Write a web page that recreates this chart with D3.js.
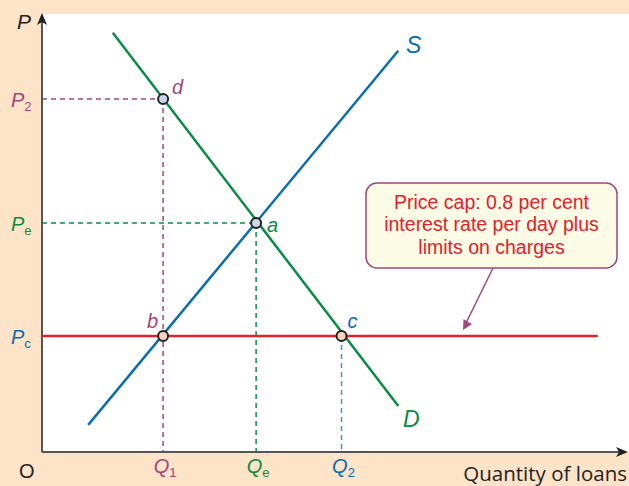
<!DOCTYPE html>
<html><head><meta charset="utf-8">
<script src="https://cdn.jsdelivr.net/npm/d3@7"></script>
<style>body{margin:0;background:#fde3c8;} svg{display:block;font-family:"Liberation Sans",Arial,sans-serif;}</style>
</head><body>
<svg id="c" width="629" height="486"></svg>
<script>
// Data (quantity and price in arbitrary units 0-100)
const supplyLine = [{q: 7.9, p: 6.2}, {q: 60.9, p: 91.6}];
const demandLine = [{q: 12.1, p: 95.7}, {q: 60.9, p: 10.5}];
const capLine = [{q: 0, p: 26.5}, {q: 95.0, p: 26.5}];
const keyQ = {Q1: 20.7, Qe: 36.6, Q2: 51.2};
const keyP = {P2: 80.6, Pe: 52.3, Pc: 26.5};
const pointNames = ["d", "a", "b", "c"];
const pointQ = [20.7, 36.6, 20.7, 51.2];
const pointP = [80.6, 52.3, 26.5, 26.5];
const capText = ["Price cap: 0.8 per cent", "interest rate per day plus", "limits on charges"];

const green = "#0a8c45", blue = "#0a6db2", red = "#e3202c", purple = "#a2457c", axisCol = "#555";
const svg = d3.select("#c");
const x = d3.scaleLinear().domain([0, 100]).range([42, 627]);
const y = d3.scaleLinear().domain([0, 100]).range([452, 14]);

// white plot background
svg.append("rect").attr("x", x(0)).attr("y", y(100)).attr("width", 629 - x(0)).attr("height", y(0) - y(100)).attr("fill", "#fff");

const line = d3.line().x(d => x(d.q)).y(d => y(d.p));

// dashed guides
function dash(x1, y1, x2, y2, col) {
  svg.append("line").attr("x1", x1).attr("y1", y1).attr("x2", x2).attr("y2", y2)
    .attr("stroke", col).attr("stroke-width", 1.5).attr("stroke-dasharray", "5,4");
}
dash(x(0), y(keyP.P2), x(keyQ.Q1), y(keyP.P2), purple);
dash(x(keyQ.Q1), y(keyP.P2), x(keyQ.Q1), y(0), purple);
dash(x(0), y(keyP.Pe), x(keyQ.Qe), y(keyP.Pe), green);
dash(x(keyQ.Qe), y(keyP.Pe), x(keyQ.Qe), y(0), green);
dash(x(keyQ.Q2), y(keyP.Pc), x(keyQ.Q2), y(0), "#4a90c8");

// axes
svg.append("line").attr("x1", x(0)).attr("y1", y(0)).attr("x2", x(0)).attr("y2", 22).attr("stroke", axisCol).attr("stroke-width", 2);
svg.append("path").attr("d", `M${x(0)},13 L${x(0)-5},25 L${x(0)},22 L${x(0)+5},25 Z`).attr("fill", "#222");
svg.append("line").attr("x1", x(0)).attr("y1", y(0)).attr("x2", 620).attr("y2", y(0)).attr("stroke", axisCol).attr("stroke-width", 2);
svg.append("path").attr("d", `M628,${y(0)} L616,${y(0)-5} L619,${y(0)} L616,${y(0)+5} Z`).attr("fill", "#222");

// curves
svg.append("path").datum(capLine).attr("d", line).attr("stroke", red).attr("stroke-width", 2.5).attr("fill", "none");
svg.append("path").datum(supplyLine).attr("d", line).attr("stroke", blue).attr("stroke-width", 2.5).attr("fill", "none");
svg.append("path").datum(demandLine).attr("d", line).attr("stroke", green).attr("stroke-width", 2.5).attr("fill", "none");

// callout
const bx = 366, by = 183, bw = 251, bh = 85;
svg.append("line").attr("x1", 493).attr("y1", by + bh).attr("x2", 466).attr("y2", 323).attr("stroke", purple).attr("stroke-width", 1.5);
svg.append("path").attr("d", "M463,330 L463.5,319 L468,322 L472,324 Z").attr("fill", purple);
svg.append("rect").attr("x", bx).attr("y", by).attr("width", bw).attr("height", bh).attr("rx", 11)
  .attr("fill", "#fcfbe6").attr("stroke", purple).attr("stroke-width", 1.5);
svg.append("g").selectAll("text").data(capText).join("text")
  .attr("x", bx + bw / 2).attr("y", (d, i) => 208.5 + i * 22.5).attr("text-anchor", "middle")
  .attr("font-size", 19.5).attr("fill", red).text(d => d);

// points
const pfill = ["#c9d5e9", "#c9d5e9", "#fbd3bd", "#fbd3bd"];
svg.append("g").selectAll("circle").data(pointNames).join("circle")
  .attr("cx", (d, i) => x(pointQ[i])).attr("cy", (d, i) => y(pointP[i])).attr("r", 5)
  .attr("fill", (d, i) => pfill[i]).attr("stroke", "#222").attr("stroke-width", 2);

// point labels
const plCol = [purple, green, purple, blue];
const plDx = [9, 11, -16, 6];
const plDy = [-5, 9, -8, -8];
svg.append("g").selectAll("text").data(pointNames).join("text")
  .attr("x", (d, i) => x(pointQ[i]) + plDx[i]).attr("y", (d, i) => y(pointP[i]) + plDy[i])
  .attr("font-size", 20).attr("font-style", "italic").attr("fill", (d, i) => plCol[i]).text(d => d);

// curve labels
svg.append("text").attr("x", 406).attr("y", 53).attr("font-size", 23).attr("font-style", "italic").attr("fill", blue).text("S");
svg.append("text").attr("x", 403).attr("y", 427).attr("font-size", 23).attr("font-style", "italic").attr("fill", green).text("D");

// axis labels
svg.append("text").attr("x", 17).attr("y", 29).attr("font-size", 21).attr("font-style", "italic").attr("fill", "#222").text("P");
function sub(xp, yp, main, s, col, anchor) {
  const t = svg.append("text").attr("x", xp).attr("y", yp).attr("font-size", 20).attr("fill", col).attr("text-anchor", anchor || "start");
  t.append("tspan").attr("font-style", "italic").text(main);
  t.append("tspan").attr("font-size", 13).attr("dy", 4).text(s);
}
sub(11, y(keyP.P2) + 8, "P", "2", purple);
sub(11, y(keyP.Pe) + 8, "P", "e", green);
sub(11, y(keyP.Pc) + 8, "P", "c", blue);
sub(x(keyQ.Q1) + 2, 473, "Q", "1", purple, "middle");
sub(x(keyQ.Qe) + 2, 473, "Q", "e", green, "middle");
sub(x(keyQ.Q2) + 2, 473, "Q", "2", blue, "middle");
svg.append("text").attr("x", 19).attr("y", 478).attr("font-size", 20).attr("fill", "#222").text("O");
svg.append("text").attr("x", 627).attr("y", 481).attr("font-size", 20.5).attr("font-family", "'Open Sans', sans-serif")
  .attr("fill", "#222").attr("text-anchor", "end").text("Quantity of loans");
</script>
</body></html>
